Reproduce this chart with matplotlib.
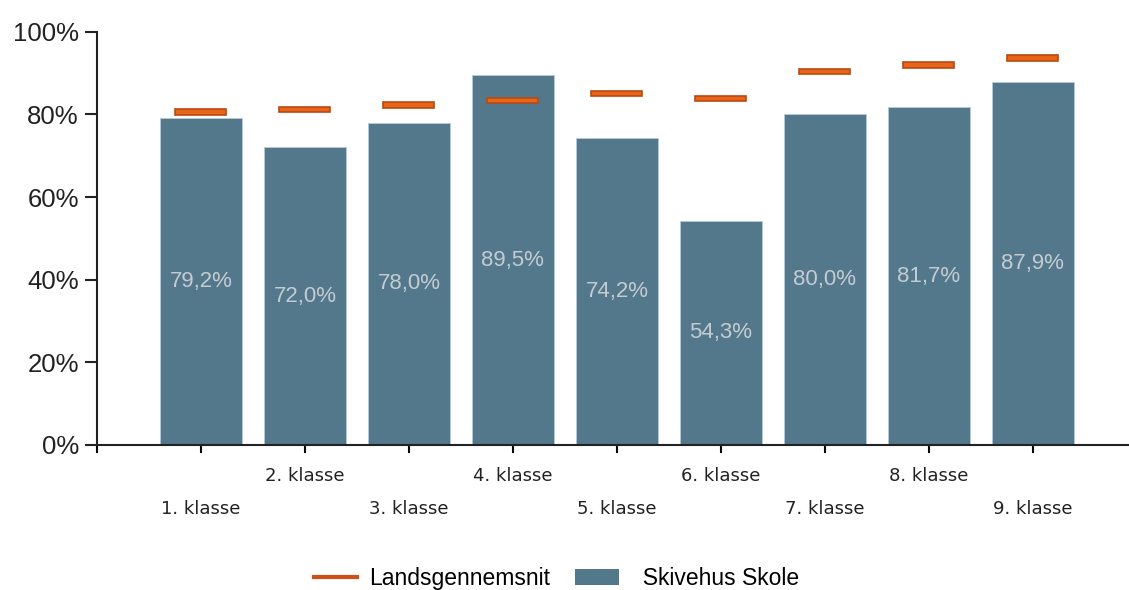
import numpy as np
import matplotlib.pyplot as plt
from matplotlib.lines import Line2D
from matplotlib.patches import Patch

# data
classes = ["1. klasse", "2. klasse", "3. klasse", "4. klasse", "5. klasse",
           "6. klasse", "7. klasse", "8. klasse", "9. klasse"]
school = [79.2, 72.0, 78.0, 89.5, 74.2, 54.3, 80.0, 81.7, 87.9]
national = [80.6, 81.2, 82.3, 83.3, 85.0, 83.9, 90.3, 91.9, 93.6]
school_labels = ["79,2%", "72,0%", "78,0%", "89,5%", "74,2%", "54,3%", "80,0%", "81,7%", "87,9%"]

bar_color = "#53788C"
orange = "#E8641A"
orange_edge = "#B84A10"

plt.rcParams['font.family'] = ['Liberation Sans', 'DejaVu Sans']

fig = plt.figure(figsize=(11.29, 5.90), dpi=100)
ax = fig.add_axes([0.0859, 0.2458, 0.921, 0.7005])

x = np.arange(1, len(classes) + 1)
ax.bar(x, school, width=0.79, color=bar_color, edgecolor="#B8CAD3", linewidth=0.6, zorder=2)

# national average drawn as short horizontal bars
ax.bar(x, 1.3, bottom=np.array(national) - 0.65, width=0.49, color=orange,
       edgecolor=orange_edge, linewidth=1.2, zorder=3)

for xi, v, lab in zip(x, school, school_labels):
    ax.text(xi, v / 2, lab, ha="center", va="center", color="#C4CCD1", fontsize=16, zorder=4)

ax.set_xlim(0, 10)
ax.set_ylim(0, 100)
ax.set_yticks(np.arange(0, 101, 20))
ax.set_yticklabels([f"{t}%" for t in range(0, 101, 20)], fontsize=18.5)
ax.set_xticks(np.arange(0, 10))
ax.set_xticklabels([])
ax.tick_params(axis="y", length=9, width=1.5, direction="out", pad=4, colors="#222222")
ax.tick_params(axis="x", length=6, width=1.5, direction="out")

trans = ax.get_xaxis_transform()
for i, name in enumerate(classes):
    ypos = -0.075 if i % 2 == 1 else -0.155
    ax.text(x[i], ypos, name, transform=trans, ha="center", va="center",
            fontsize=13, color="#222222", family="DejaVu Sans")

for s in ["top", "right"]:
    ax.spines[s].set_visible(False)
for s in ["left", "bottom"]:
    ax.spines[s].set_linewidth(1.5)
    ax.spines[s].set_color("#222222")

handles = [Line2D([0], [0], color="#D0501A", lw=3),
           Patch(facecolor=bar_color, edgecolor="none")]
fig.legend(handles, ["Landsgennemsnit", "  Skivehus Skole"], loc="center",
           bbox_to_anchor=(0.493, 0.02), ncol=2, frameon=False, fontsize=16.5,
           handlelength=1.9, columnspacing=1.1, handletextpad=0.5)

fig.savefig("out.png", dpi=100)
